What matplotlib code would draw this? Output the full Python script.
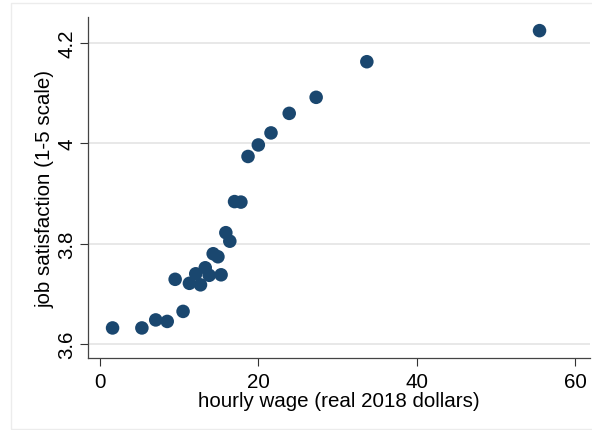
import matplotlib.pyplot as plt
from matplotlib.patches import Rectangle

plt.rcParams['font.family'] = ['Liberation Sans', 'DejaVu Sans']

# binned means: hourly wage vs job satisfaction
wage = [1.6, 5.3, 7.05, 8.5, 9.5, 10.5, 11.3, 12.1, 12.7, 13.3, 13.8, 14.3,
        14.9, 15.3, 15.9, 16.4, 17.0, 17.8, 18.7, 20.0, 21.6, 23.9, 27.3,
        33.7, 55.5]
satisfaction = [3.632, 3.632, 3.648, 3.645, 3.729, 3.665, 3.721, 3.740,
                3.718, 3.752, 3.737, 3.780, 3.774, 3.738, 3.822, 3.805,
                3.884, 3.883, 3.974, 3.997, 4.021, 4.060, 4.092, 4.163,
                4.225]

x_ticks = [0, 20, 40, 60]
y_ticks = [3.6, 3.8, 4.0, 4.2]
y_tick_labels = ["3.6", "3.8", "4", "4.2"]

fig = plt.figure(figsize=(5.92, 4.31), dpi=100)
fig.patches.append(Rectangle((11 / 592, 1 / 431), 1.0, 426 / 431,
                             transform=fig.transFigure, fill=False,
                             edgecolor="#ececec", linewidth=1.0))

ax = fig.add_axes([0.148, 0.167, 0.849, 0.791])
ax.scatter(wage, satisfaction, s=95, color="#1a476f", edgecolor="none",
           zorder=3)

ax.set_xlim(-1.55, 61.9)
ax.set_ylim(3.572, 4.252)
ax.set_xticks(x_ticks)
ax.set_yticks(y_ticks)
ax.set_yticklabels(y_tick_labels, rotation=90, va="center")
ax.tick_params(axis="both", direction="out", length=6, width=0.8,
               color="#333333", labelsize=14.8)
ax.tick_params(axis="x", pad=4)
ax.tick_params(axis="y", pad=2)

ax.grid(axis="y", color="#e6e6e6", linewidth=1.3, zorder=0)
ax.set_axisbelow(True)
for side in ("top", "right"):
    ax.spines[side].set_visible(False)
for side in ("left", "bottom"):
    ax.spines[side].set_color("#444444")
    ax.spines[side].set_linewidth(0.9)

ax.set_xlabel("hourly wage (real 2018 dollars)", fontsize=14.8, labelpad=0)
ax.set_ylabel("job satisfaction (1-5 scale)", fontsize=14.8, labelpad=2)

fig.savefig("out.png", dpi=100)
